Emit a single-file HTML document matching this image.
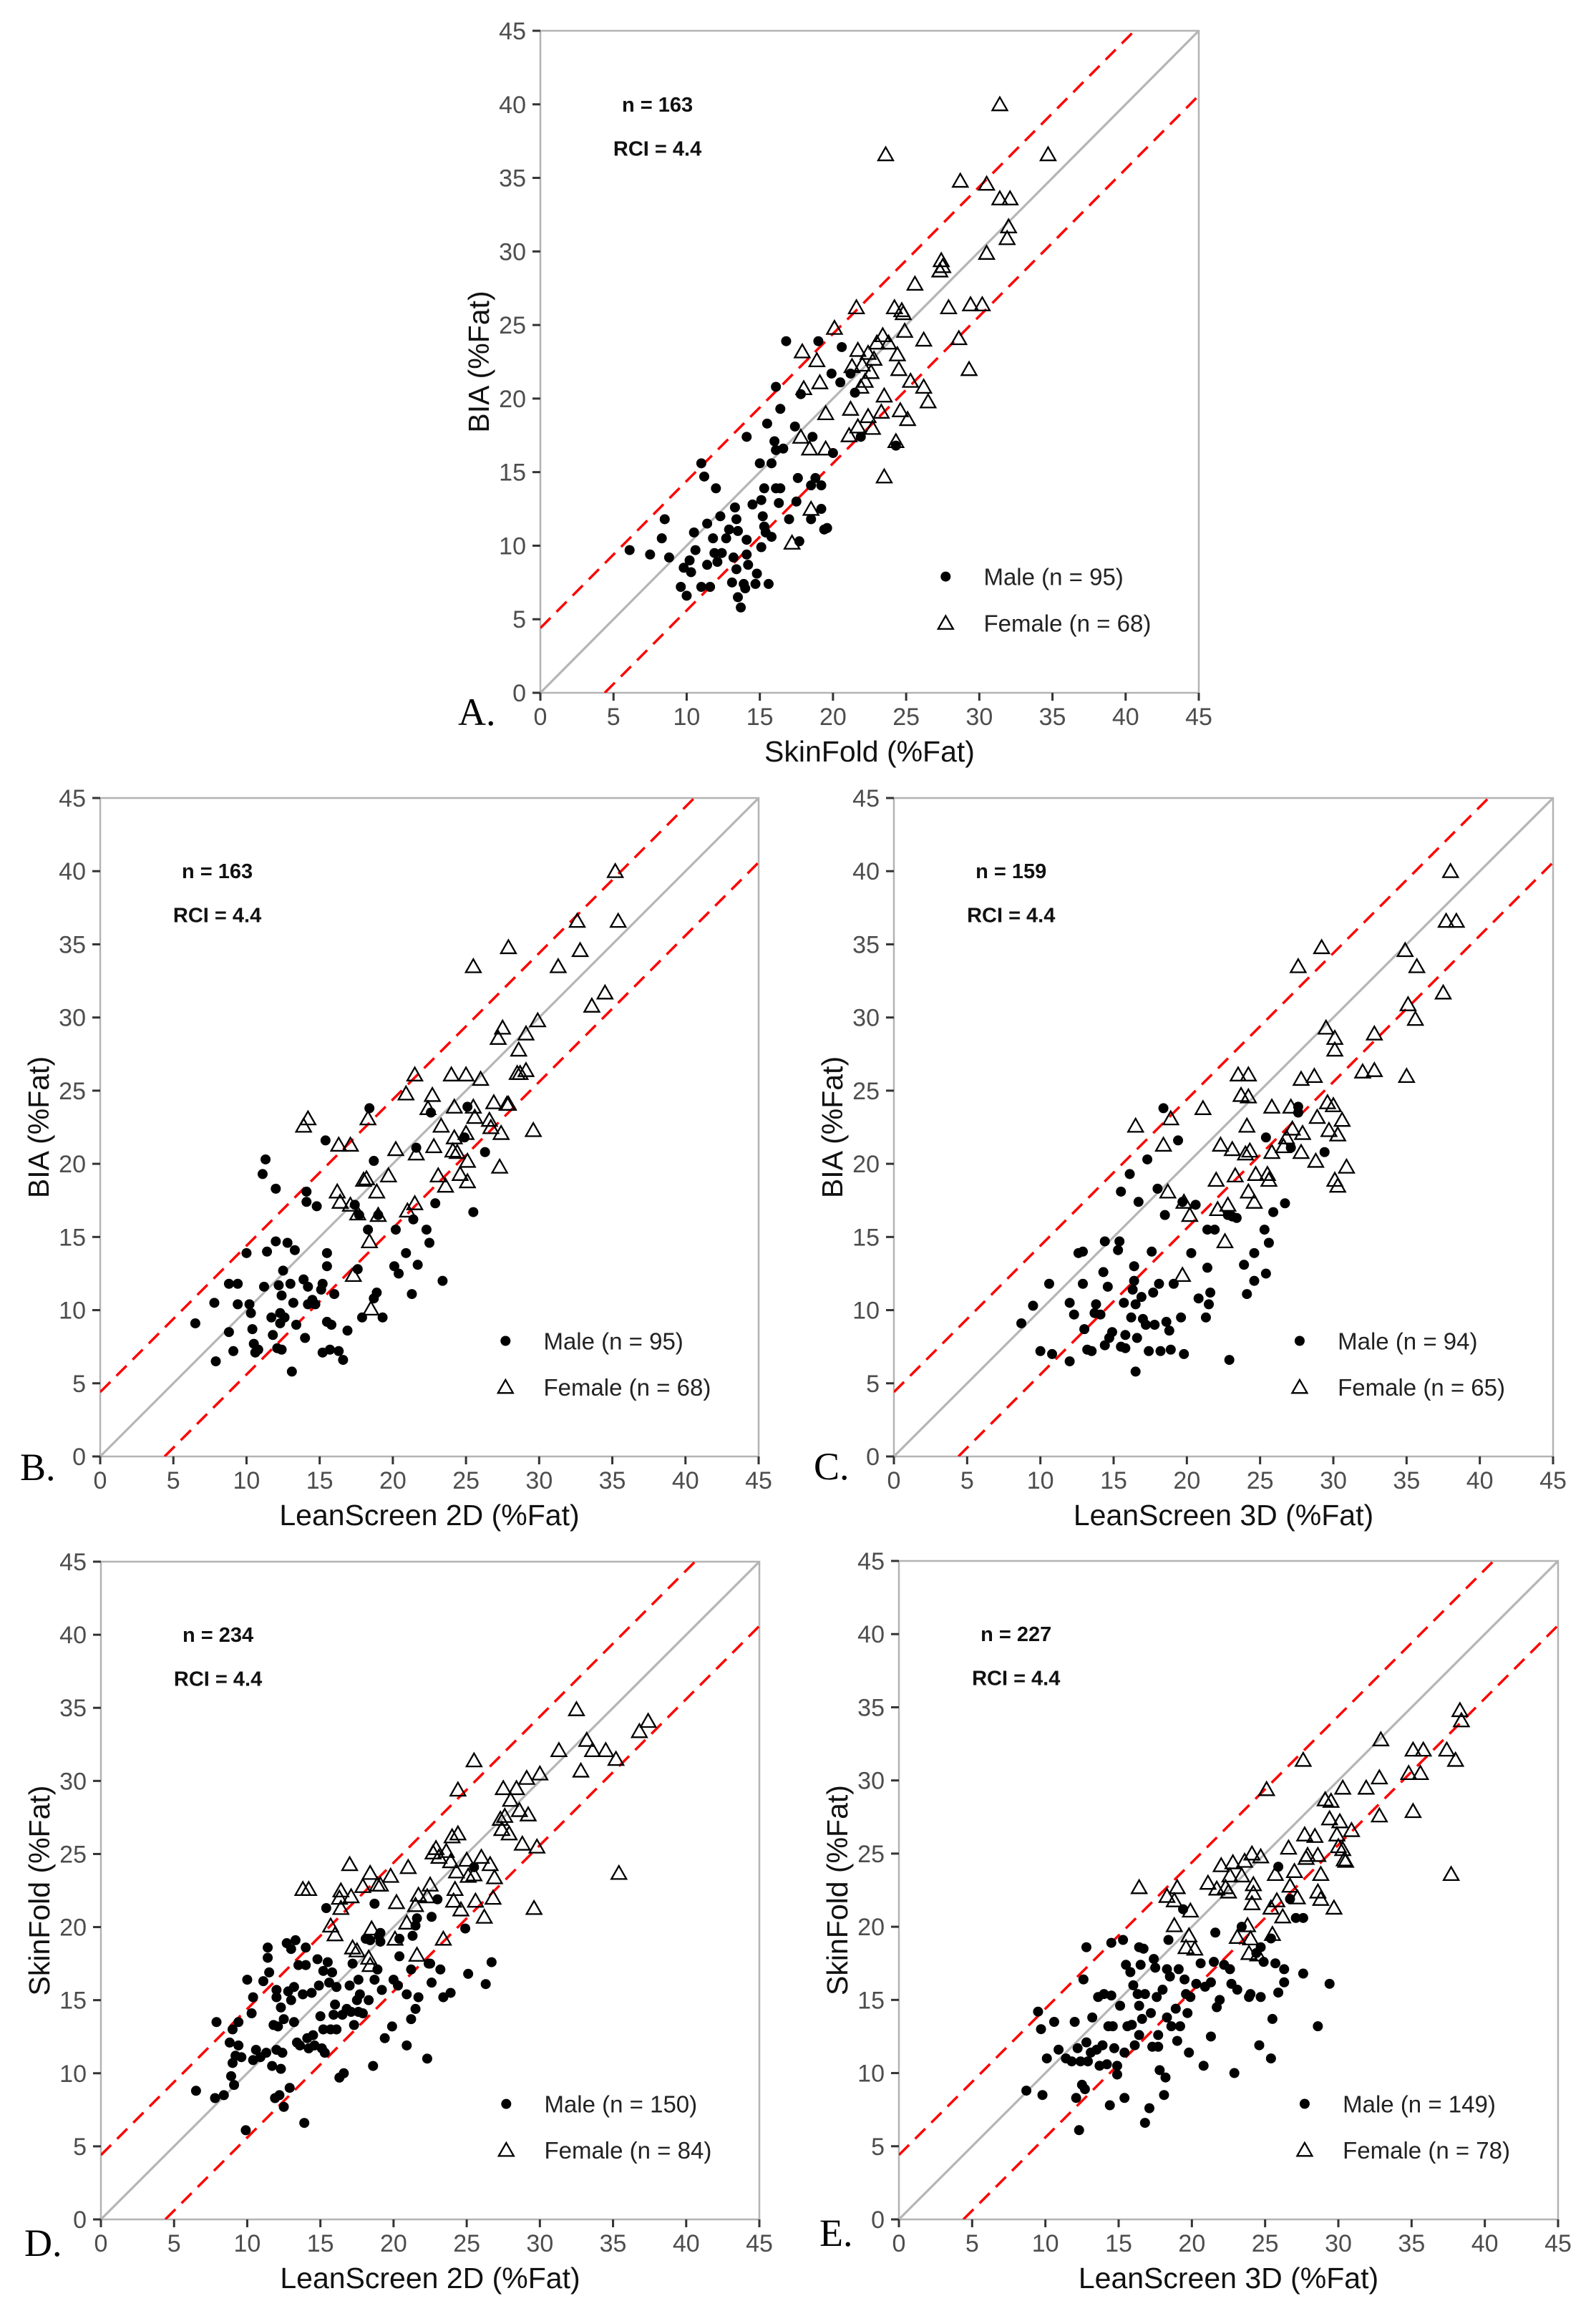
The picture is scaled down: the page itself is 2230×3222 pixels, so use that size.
<!DOCTYPE html>
<html><head><meta charset="utf-8"><style>
html,body{margin:0;padding:0;background:#fff;}
svg{display:block;}
</style></head><body>
<svg id="fig" xmlns="http://www.w3.org/2000/svg" width="2230" height="3222" viewBox="0 0 2230 3222"></svg>
<script>
const axisTicks = [0,5,10,15,20,25,30,35,40,45];
const rci = 4.4;
const panelLetters = ["A.","B.","C.","D.","E."];
const xTitles = ["SkinFold (%Fat)","LeanScreen 2D (%Fat)","LeanScreen 3D (%Fat)","LeanScreen 2D (%Fat)","LeanScreen 3D (%Fat)"];
const yTitles = ["BIA (%Fat)","BIA (%Fat)","BIA (%Fat)","SkinFold (%Fat)","SkinFold (%Fat)"];
const nLabels = ["n = 163","n = 163","n = 159","n = 234","n = 227"];
const maleLabels = ["Male (n = 95)","Male (n = 95)","Male (n = 94)","Male (n = 150)","Male (n = 149)"];
const femaleLabels = ["Female (n = 68)","Female (n = 68)","Female (n = 65)","Female (n = 84)","Female (n = 78)"];

const aMale = [[6.1,9.7],[7.5,9.4],[8.3,10.5],[8.5,11.8],[8.8,9.2],[9.6,7.2],[9.8,8.5],[10.0,6.6],[10.2,9.0],[10.3,8.2],[10.5,10.9],[10.6,9.7],[11.0,7.2],[11.0,15.6],[11.2,14.7],[11.4,8.7],[11.4,11.5],[11.6,7.2],[11.8,10.5],[11.9,9.5],[12.0,13.9],[12.1,8.9],[12.3,12.0],[12.4,9.5],[12.7,10.5],[12.9,11.1],[13.1,7.5],[13.2,9.2],[13.3,12.6],[13.4,8.4],[13.4,11.8],[13.5,11.0],[13.5,6.5],[13.7,5.8],[13.9,7.4],[14.0,7.1],[14.1,10.4],[14.1,9.4],[14.1,17.4],[14.2,8.7],[14.5,12.8],[14.7,7.4],[14.8,8.1],[15.0,15.6],[15.1,9.9],[15.1,13.1],[15.2,12.0],[15.3,11.3],[15.3,13.9],[15.4,10.9],[15.5,18.3],[15.6,7.4],[15.8,15.6],[15.8,10.6],[16.0,17.1],[16.1,13.9],[16.1,20.8],[16.1,16.5],[16.3,12.9],[16.4,19.3],[16.4,13.9],[16.6,16.6],[16.8,23.9],[17.0,11.8],[17.4,18.1],[17.5,13.0],[17.6,14.6],[17.7,10.3],[17.8,20.3],[18.5,14.1],[18.5,11.8],[18.6,17.4],[18.8,14.6],[19.0,23.9],[19.2,14.1],[19.2,12.5],[19.4,11.1],[19.6,11.2],[19.9,21.7],[20.0,16.3],[20.5,21.1],[20.6,23.5],[21.5,20.4],[21.9,17.4],[21.2,21.7],[24.3,16.8]];
const aFemale = [[17.2,10.2],[17.8,17.4],[17.9,23.2],[18.0,20.7],[18.4,16.6],[18.5,12.5],[18.9,22.6],[19.1,21.1],[19.5,16.6],[19.5,19.0],[20.1,24.8],[21.1,17.5],[21.2,19.3],[21.3,22.2],[21.6,26.2],[21.7,23.3],[21.7,18.1],[21.9,20.8],[22.0,22.3],[22.2,21.2],[22.4,18.8],[22.4,23.1],[22.6,21.8],[22.7,18.0],[22.8,22.7],[23.0,23.8],[23.3,19.1],[23.4,24.3],[23.5,20.2],[23.5,14.7],[23.6,36.6],[23.8,23.8],[24.2,26.2],[24.3,17.1],[24.4,23.0],[24.5,22.0],[24.6,19.2],[24.7,26.0],[24.8,25.8],[24.9,24.6],[25.1,18.6],[25.3,21.2],[25.6,27.8],[26.2,24.0],[26.2,20.8],[26.5,19.8],[27.3,28.7],[27.4,29.4],[27.5,29.0],[27.9,26.2],[28.6,24.1],[28.7,34.8],[29.3,22.0],[29.4,26.4],[30.2,26.4],[30.5,34.6],[30.5,29.9],[31.4,33.6],[31.4,40.0],[31.9,30.9],[32.0,31.7],[32.1,33.6],[34.7,36.6]];

const bMale = [[6.5,9.1],[7.8,10.5],[7.9,6.5],[8.8,8.5],[8.8,11.8],[9.1,7.2],[9.4,11.8],[9.4,10.4],[10.0,13.9],[10.2,10.4],[10.3,9.8],[10.4,8.7],[10.5,7.7],[10.6,7.1],[10.8,7.3],[11.1,19.3],[11.2,11.6],[11.3,20.3],[11.4,14.0],[11.7,9.5],[11.8,8.3],[12.0,18.3],[12.0,14.7],[12.1,7.4],[12.2,11.7],[12.3,9.8],[12.3,9.1],[12.4,11.0],[12.4,7.3],[12.5,12.7],[12.6,9.5],[12.8,14.6],[13.0,11.8],[13.1,5.8],[13.2,10.5],[13.3,14.1],[13.4,9.0],[13.9,12.1],[14.0,8.1],[14.1,18.1],[14.1,17.4],[14.2,10.4],[14.2,11.6],[14.5,10.7],[14.7,10.4],[14.8,17.1],[15.1,11.4],[15.2,11.8],[15.2,7.1],[15.4,21.6],[15.5,13.9],[15.5,13.0],[15.5,9.2],[15.7,7.3],[15.8,9.0],[16.0,11.1],[16.3,7.2],[16.6,6.6],[16.9,8.6],[17.4,17.2],[17.6,12.8],[17.7,16.5],[17.9,9.5],[18.3,15.5],[18.4,23.8],[18.7,10.8],[18.7,20.2],[18.9,11.2],[19.0,16.5],[19.3,9.5],[20.1,13.0],[20.2,15.5],[20.4,12.5],[20.9,13.9],[21.3,11.1],[21.4,16.2],[21.6,21.1],[21.7,13.1],[22.3,15.5],[22.5,14.6],[22.6,23.5],[22.9,17.3],[23.4,12.0],[24.9,21.8],[25.1,23.9],[25.5,16.7],[26.3,20.8]];
const bFemale = [[13.9,22.6],[14.2,23.1],[16.2,18.1],[16.3,21.3],[16.4,17.4],[17.1,21.3],[17.1,17.2],[17.6,16.6],[18.0,18.9],[18.2,19.0],[18.3,23.1],[18.4,14.7],[18.5,10.1],[18.9,18.1],[19.0,16.5],[17.3,12.4],[19.7,19.2],[20.2,21.0],[20.9,24.8],[21.0,16.8],[21.5,26.1],[21.5,17.3],[21.6,20.7],[22.4,23.8],[22.7,24.7],[22.8,21.2],[23.1,19.2],[23.3,22.6],[23.6,18.5],[24.0,26.1],[24.1,20.9],[24.2,21.8],[24.2,23.9],[24.4,20.8],[24.6,19.3],[25.0,22.1],[25.0,26.1],[25.1,20.2],[25.1,18.8],[25.5,23.9],[25.5,33.5],[25.6,23.2],[26.0,25.8],[26.6,23.0],[26.9,24.2],[27.3,19.8],[26.7,22.5],[27.2,28.6],[27.4,22.1],[27.5,29.3],[27.8,24.1],[27.9,34.8],[27.9,24.1],[28.5,26.2],[28.6,27.8],[28.7,26.2],[29.1,26.4],[29.1,28.9],[29.6,22.3],[29.9,29.8],[31.3,33.5],[32.6,36.6],[32.8,34.6],[33.6,30.8],[34.5,31.7],[35.2,40.0],[35.4,36.6]];

const cMale = [[8.7,9.1],[9.5,10.3],[10.0,7.2],[10.6,11.8],[10.8,7.0],[12.0,10.5],[12.0,6.5],[12.3,9.7],[12.6,13.9],[12.9,14.0],[12.9,11.8],[13.0,8.7],[13.2,7.3],[13.5,7.2],[13.7,9.8],[13.8,10.4],[14.1,9.7],[14.3,12.6],[14.4,14.7],[14.4,7.6],[14.6,11.6],[14.7,8.1],[14.9,8.5],[15.3,14.1],[15.4,14.7],[15.5,18.1],[15.5,7.5],[15.7,10.5],[15.8,7.4],[15.8,8.3],[16.1,19.3],[16.2,9.5],[16.3,11.4],[16.4,12.0],[16.4,13.0],[16.5,10.4],[16.5,5.8],[16.6,8.1],[16.7,17.4],[16.9,10.9],[17.0,9.4],[17.2,9.0],[17.3,20.3],[17.4,7.2],[17.6,14.0],[17.7,11.2],[17.8,9.0],[18.0,18.3],[18.1,11.8],[18.2,7.2],[18.4,23.8],[18.5,16.5],[18.6,9.2],[18.8,8.6],[18.9,7.3],[19.1,11.8],[19.4,21.6],[19.6,9.5],[19.7,17.4],[19.8,7.0],[20.3,13.9],[20.6,17.2],[20.8,10.8],[21.3,9.5],[21.4,12.9],[21.4,15.5],[21.5,10.4],[21.6,11.2],[21.9,15.5],[22.8,16.5],[22.9,6.6],[23.1,16.4],[23.4,16.3],[23.9,13.1],[24.1,11.1],[24.6,13.9],[24.6,12.0],[25.3,15.5],[25.4,21.8],[25.4,12.5],[25.6,14.6],[25.9,16.7],[26.7,17.3],[27.1,21.1],[27.6,23.9],[27.6,23.5],[29.4,20.8]];
const cFemale = [[16.5,22.6],[18.4,21.3],[18.7,18.1],[18.9,23.1],[19.7,12.4],[19.8,17.4],[20.2,16.5],[21.1,23.8],[22.0,18.9],[22.1,16.9],[22.3,21.3],[22.6,14.7],[22.8,17.2],[23.1,21.0],[23.3,19.2],[23.5,26.1],[23.7,24.7],[24.0,20.7],[24.1,22.6],[24.2,26.1],[24.2,24.6],[24.2,18.1],[24.3,20.9],[24.6,17.4],[24.7,19.3],[25.5,19.3],[25.6,18.9],[25.8,23.9],[25.8,20.8],[26.6,21.2],[26.8,21.8],[27.1,23.9],[27.2,22.4],[27.6,33.5],[27.8,20.8],[27.8,25.8],[27.9,22.1],[28.7,26.0],[28.8,20.2],[28.9,23.2],[29.2,34.8],[29.5,29.3],[29.6,24.2],[29.7,22.3],[30.0,24.0],[30.1,28.6],[30.1,27.8],[30.1,18.9],[30.3,18.5],[30.3,22.0],[30.6,23.0],[30.9,19.8],[32.0,26.3],[32.8,28.9],[32.8,26.4],[34.9,34.6],[35.0,26.0],[35.1,30.9],[35.6,29.9],[35.7,33.5],[37.5,31.7],[37.7,36.6],[38.0,40.0],[38.4,36.6]];

const dMale = [[6.5,8.8],[7.8,8.3],[7.9,13.5],[8.4,8.5],[8.8,12.1],[8.9,9.8],[9.0,13.0],[9.0,10.7],[9.1,9.2],[9.2,11.2],[9.4,13.5],[9.4,11.9],[9.6,11.1],[9.9,6.1],[10.0,16.4],[10.3,14.1],[10.4,10.9],[10.4,15.2],[10.6,11.6],[10.9,11.1],[11.1,16.3],[11.3,11.4],[11.4,18.6],[11.4,17.9],[11.5,16.9],[11.7,10.5],[11.8,13.3],[11.9,8.3],[12.0,15.7],[12.0,15.2],[12.0,11.6],[12.1,13.2],[12.2,8.5],[12.3,14.5],[12.3,10.3],[12.4,11.4],[12.5,7.7],[12.5,13.7],[12.7,18.9],[12.8,15.6],[12.9,9.0],[13.0,18.5],[13.0,15.0],[13.2,13.5],[13.2,15.9],[13.3,19.1],[13.4,12.1],[13.5,17.4],[13.6,11.9],[13.8,15.4],[13.9,6.6],[14.0,17.4],[14.0,18.6],[14.1,12.4],[14.2,11.7],[14.4,15.5],[14.5,12.6],[14.6,11.9],[14.8,17.8],[14.9,16.0],[15.0,13.9],[15.1,11.7],[15.2,13.0],[15.2,17.0],[15.3,11.4],[15.4,21.3],[15.5,17.6],[15.6,16.2],[15.7,13.0],[15.8,16.9],[15.9,14.0],[16.0,14.7],[16.1,15.9],[16.1,13.0],[16.3,9.7],[16.5,14.0],[16.6,10.0],[16.8,14.4],[17.0,16.0],[17.1,14.2],[17.2,17.5],[17.3,13.3],[17.5,15.0],[17.6,16.4],[17.6,14.2],[17.7,15.4],[17.9,14.1],[18.1,19.2],[18.3,15.0],[18.4,19.1],[18.6,10.5],[18.7,21.6],[18.7,16.4],[18.9,17.1],[19.0,19.4],[19.1,19.6],[19.1,19.0],[19.2,15.7],[19.4,12.4],[19.9,13.2],[20.0,16.4],[20.3,16.0],[20.4,19.2],[20.4,18.0],[20.9,15.4],[20.9,11.9],[21.2,17.1],[21.2,13.7],[21.3,19.4],[21.5,20.1],[21.5,14.4],[21.6,20.6],[21.7,15.2],[22.3,11.0],[22.4,17.5],[22.5,17.5],[22.6,16.2],[22.6,20.7],[23.0,21.9],[23.2,17.1],[23.4,15.2],[23.9,15.5],[24.9,19.9],[25.1,16.8],[25.5,24.1],[26.3,16.1],[26.7,17.6]];
const dFemale = [[13.8,22.6],[14.2,22.6],[15.7,20.1],[16.0,19.5],[16.3,22.0],[16.4,22.5],[16.4,21.3],[17.0,24.3],[17.1,22.1],[17.2,18.6],[17.5,18.4],[17.9,22.8],[18.3,17.9],[18.4,17.4],[18.4,23.7],[18.5,19.9],[18.9,22.9],[19.1,22.9],[19.8,23.5],[20.1,19.2],[20.2,21.7],[20.9,20.3],[21.0,24.1],[21.5,21.5],[21.6,18.1],[21.7,22.2],[22.3,22.1],[22.5,22.9],[22.7,25.1],[22.9,25.4],[23.1,24.8],[23.4,19.2],[23.6,25.2],[23.9,24.5],[24.0,26.2],[24.1,21.8],[24.2,22.6],[24.3,23.8],[24.4,29.4],[24.4,26.4],[24.6,21.2],[25.0,24.6],[25.1,23.5],[25.5,31.4],[25.5,23.6],[25.6,21.8],[26.0,24.8],[26.2,20.7],[26.6,24.3],[26.8,22.0],[26.9,23.4],[27.3,27.4],[27.4,26.7],[27.5,29.5],[27.6,27.6],[27.9,26.4],[28.0,28.7],[28.4,29.5],[28.6,28.0],[28.8,25.7],[29.1,30.2],[29.2,27.7],[29.8,25.5],[29.6,21.3],[30.0,30.5],[31.3,32.1],[32.5,34.9],[32.8,30.7],[33.2,32.8],[33.6,32.1],[34.5,32.1],[35.2,31.5],[35.4,23.7],[36.8,33.4],[37.4,34.1]];

const eMale = [[8.7,8.8],[9.5,14.2],[9.7,13.0],[9.8,8.5],[10.1,11.0],[10.6,13.5],[10.9,11.6],[11.4,11.0],[11.8,10.8],[12.0,13.5],[12.1,8.3],[12.2,11.7],[12.3,6.1],[12.4,10.8],[12.5,9.2],[12.6,16.4],[12.7,8.9],[12.8,12.1],[12.8,18.6],[12.9,10.8],[13.1,11.4],[13.2,13.8],[13.5,11.6],[13.6,15.2],[13.7,10.5],[13.9,11.9],[14.0,15.4],[14.2,10.6],[14.3,13.2],[14.4,7.8],[14.5,18.9],[14.5,15.3],[14.6,13.2],[14.7,11.7],[14.9,9.9],[14.9,10.5],[15.1,14.6],[15.3,19.1],[15.4,8.3],[15.4,11.4],[15.5,17.4],[15.6,13.2],[15.8,16.9],[15.9,13.3],[16.0,16.0],[16.1,11.9],[16.3,15.4],[16.4,12.6],[16.4,18.6],[16.4,14.6],[16.5,17.4],[16.6,13.7],[16.7,18.5],[16.8,6.6],[16.8,15.4],[17.1,7.6],[17.2,14.1],[17.3,11.8],[17.4,17.8],[17.5,17.2],[17.6,15.2],[17.7,12.6],[17.7,11.8],[17.8,10.2],[18.0,15.7],[18.1,8.5],[18.2,9.7],[18.3,17.1],[18.3,13.8],[18.4,19.1],[18.5,16.6],[18.6,13.2],[18.9,14.4],[19.0,12.2],[19.1,17.1],[19.2,13.2],[19.4,21.2],[19.5,16.4],[19.6,15.4],[19.7,14.1],[19.8,11.4],[19.9,15.2],[20.3,16.1],[20.6,17.5],[20.8,10.5],[20.9,15.9],[21.3,16.2],[21.3,12.5],[21.5,17.6],[21.6,19.6],[21.7,14.5],[21.9,15.0],[22.2,17.4],[22.6,17.1],[22.7,16.1],[22.9,10.0],[23.1,15.7],[23.4,20.0],[23.9,15.2],[24.0,15.4],[24.4,18.2],[24.6,11.9],[24.7,15.2],[24.7,18.6],[24.9,17.6],[25.4,11.0],[25.4,19.2],[25.5,13.7],[25.7,17.5],[25.9,15.5],[25.9,24.1],[26.3,17.1],[26.3,16.2],[26.7,21.9],[27.1,20.6],[27.6,20.6],[27.6,16.8],[28.6,13.2],[29.4,16.1]];
const eFemale = [[16.4,22.7],[18.3,22.1],[18.8,20.1],[18.8,21.8],[19.0,22.7],[19.6,18.6],[19.8,19.4],[19.9,21.1],[20.2,18.5],[21.1,23.0],[21.7,22.6],[22.0,24.2],[22.3,22.7],[22.5,22.4],[22.6,23.5],[22.8,24.4],[23.1,19.3],[23.4,23.5],[23.6,24.5],[23.8,20.1],[23.9,18.2],[24.0,19.2],[24.1,21.6],[24.1,25.0],[24.2,22.9],[24.2,22.3],[24.5,18.1],[24.7,24.8],[25.1,29.4],[25.4,21.3],[25.5,19.5],[25.7,23.6],[25.8,21.8],[26.2,20.7],[26.6,25.4],[26.7,22.8],[27.0,23.8],[27.2,22.0],[27.6,31.4],[27.7,26.3],[27.8,24.7],[27.9,24.9],[28.4,26.2],[28.6,24.9],[28.6,22.4],[28.8,23.6],[28.8,21.9],[29.1,28.7],[29.4,27.4],[29.5,28.6],[29.7,21.3],[29.9,26.3],[30.0,25.5],[30.1,27.2],[30.3,29.5],[30.3,25.3],[30.4,24.6],[30.5,24.5],[30.9,26.6],[31.9,29.5],[32.8,27.6],[32.8,30.2],[32.9,32.8],[34.8,30.5],[35.1,32.1],[35.1,27.9],[35.6,30.5],[35.8,32.1],[37.4,32.1],[37.7,23.6],[38.0,31.4],[38.3,34.8],[38.4,34.1]];

const panelMale = [aMale,bMale,cMale,dMale,eMale];
const panelFemale = [aFemale,bFemale,cFemale,dFemale,eFemale];

const NS = "http://www.w3.org/2000/svg";
const svg = document.getElementById('fig');
function mk(tag, attrs, parent){
  const e = document.createElementNS(NS, tag);
  for (const k in attrs) e.setAttribute(k, attrs[k]);
  (parent||svg).appendChild(e);
  return e;
}
const layout = [
  {x0:755, y0:968, w:920, h:925, lx:640, ly:1013},
  {x0:140, y0:2035, w:920, h:920, lx:28, ly:2068},
  {x0:1249, y0:2035, w:921, h:920, lx:1137, ly:2067},
  {x0:141, y0:3101, w:920, h:919, lx:34, ly:3152},
  {x0:1256, y0:3101, w:921, h:920, lx:1145, ly:3138}
];
const dmin = 0, dmax = 45;
const keys = ["a","b","c","d","e"];

layout.forEach((L, i) => {
  const sx = v => L.x0 + (v - dmin) / (dmax - dmin) * L.w;
  const sy = v => L.y0 - (v - dmin) / (dmax - dmin) * L.h;
  const g = mk('g', {});
  
  
  const clipId = 'clip' + i;
  const cp = mk('clipPath', {id: clipId}, g);
  mk('rect', {x: L.x0, y: L.y0 - L.h, width: L.w, height: L.h}, cp);

  const border = mk('rect', {x: L.x0, y: L.y0 - L.h, width: L.w, height: L.h, fill: 'none', stroke: '#b3b3b3', 'stroke-width': 2.5}, g);
  
  

  const lines = mk('g', {'clip-path': 'url(#' + clipId + ')'}, g);
  const idl = mk('line', {x1: sx(0), y1: sy(0), x2: sx(45), y2: sy(45), stroke: '#b5b5b5', 'stroke-width': 3.2}, lines);
  
  
  const up = mk('line', {x1: sx(0), y1: sy(rci), x2: sx(45 - rci), y2: sy(45), stroke: '#ff0000', 'stroke-width': 3.5, 'stroke-dasharray': '20 12'}, lines);
  
  
  const lo = mk('line', {x1: sx(rci), y1: sy(0), x2: sx(45), y2: sy(45 - rci), stroke: '#ff0000', 'stroke-width': 3.5, 'stroke-dasharray': '20 12'}, lines);
  
  

  axisTicks.forEach(t => {
    const xt = mk('line', {x1: sx(t), y1: L.y0, x2: sx(t), y2: L.y0 + 11, stroke: '#333', 'stroke-width': 3}, g);
    
    
    const xl = mk('text', {x: sx(t), y: L.y0 + 45, 'text-anchor': 'middle', 'font-size': 34, fill: '#4d4d4d', 'font-family': 'Liberation Sans, sans-serif'}, g);
    xl.textContent = t;
    
    
    const yt = mk('line', {x1: L.x0 - 11, y1: sy(t), x2: L.x0, y2: sy(t), stroke: '#333', 'stroke-width': 3}, g);
    
    
    const yl = mk('text', {x: L.x0 - 20, y: sy(t) + 12, 'text-anchor': 'end', 'font-size': 34, fill: '#4d4d4d', 'font-family': 'Liberation Sans, sans-serif'}, g);
    yl.textContent = t;
    
    
  });

  const xtitle = mk('text', {x: L.x0 + L.w / 2, y: L.y0 + 96, 'text-anchor': 'middle', 'font-size': 41, fill: '#111', 'font-family': 'Liberation Sans, sans-serif'}, g);
  xtitle.textContent = xTitles[i];
  
  
  const ycx = L.x0 - 72, ycy = L.y0 - L.h / 2;
  const ytitle = mk('text', {x: ycx, y: ycy, 'text-anchor': 'middle', 'font-size': 41, fill: '#111', 'font-family': 'Liberation Sans, sans-serif', transform: 'rotate(-90 ' + ycx + ' ' + ycy + ')'}, g);
  ytitle.textContent = yTitles[i];
  
  

  const nt = mk('text', {x: sx(8), y: sy(40) + 10, 'text-anchor': 'middle', 'font-size': 29, 'font-weight': 'bold', fill: '#111', 'font-family': 'Liberation Sans, sans-serif'}, g);
  nt.textContent = nLabels[i];
  
  
  const rt = mk('text', {x: sx(8), y: sy(37) + 10, 'text-anchor': 'middle', 'font-size': 29, 'font-weight': 'bold', fill: '#111', 'font-family': 'Liberation Sans, sans-serif'}, g);
  rt.textContent = "RCI = " + rci;
  
  

  const letter = mk('text', {x: L.lx, y: L.ly, 'font-size': 54, fill: '#000', 'font-family': 'Liberation Serif, serif'}, g);
  letter.textContent = panelLetters[i];
  
  

  const pts = mk('g', {}, g);
  
  
  panelMale[i].forEach(p => {
    const c = mk('circle', {cx: sx(p[0]), cy: sy(p[1]), r: 7, fill: '#000'}, pts);
    
    
  });
  const tri = (cx, cy) => {
    const s = 10.5;
    return (cx - s) + ',' + (cy + s * 0.8) + ' ' + (cx + s) + ',' + (cy + s * 0.8) + ' ' + cx + ',' + (cy - s * 0.95);
  };
  const fpts = mk('g', {}, g);
  
  
  panelFemale[i].forEach(p => {
    const t = mk('polygon', {points: tri(sx(p[0]), sy(p[1])), fill: 'none', stroke: '#000', 'stroke-width': 2.3}, fpts);
    
    
  });

  const lg = mk('g', {}, g);
  
  
  const lm = mk('circle', {cx: sx(27.7), cy: sy(7.9), r: 7, fill: '#000'}, lg);
  
  
  const lmt = mk('text', {x: sx(30.3), y: sy(7.9) + 12, 'font-size': 33, fill: '#222', 'font-family': 'Liberation Sans, sans-serif'}, lg);
  lmt.textContent = maleLabels[i];
  
  
  const lf = mk('polygon', {points: tri(sx(27.7), sy(4.75)), fill: 'none', stroke: '#000', 'stroke-width': 2.3}, lg);
  
  
  const lft = mk('text', {x: sx(30.3), y: sy(4.75) + 12, 'font-size': 33, fill: '#222', 'font-family': 'Liberation Sans, sans-serif'}, lg);
  lft.textContent = femaleLabels[i];
  
  
});
</script>
</body></html>
